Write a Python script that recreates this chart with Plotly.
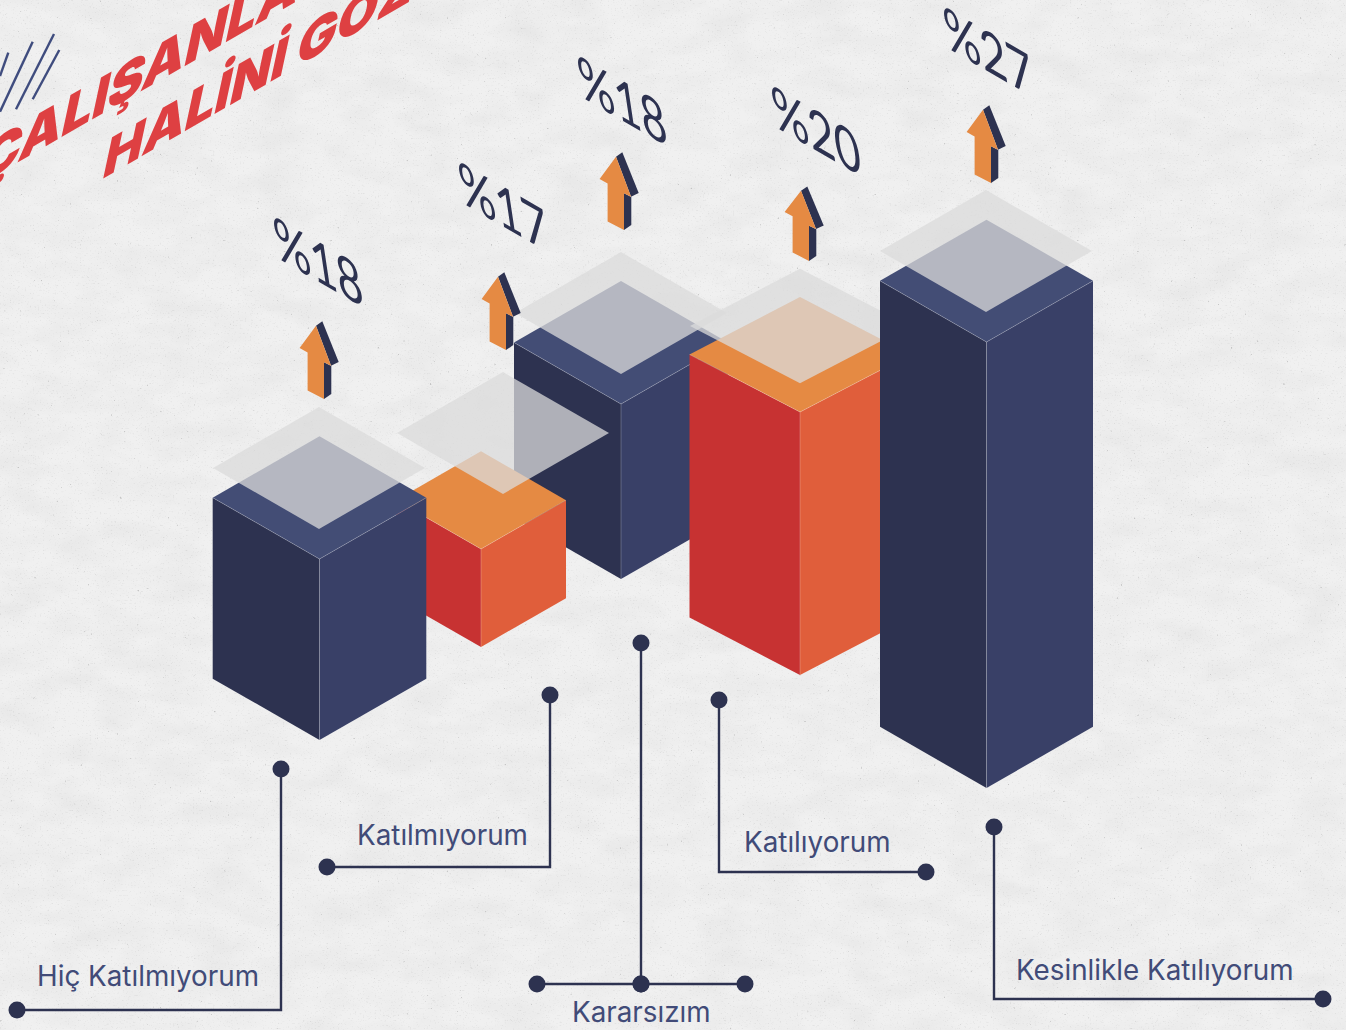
import plotly.graph_objects as go
from urllib.parse import quote

# ---------- data ----------
categories = ["Hiç Katılmıyorum", "Katılmıyorum", "Kararsızım", "Katılıyorum", "Kesinlikle Katılıyorum"]
percent_values = [18, 17, 18, 20, 27]
bar_heights = [181, 98, 175, 263, 446]
title_lines = ["ÇALIŞANLA", "HALİNİ GÖZ"]

# ---------- layout (pixel-space axes) ----------
W, H = 1346, 1030
front_x = [319.5, 481, 621, 800, 986.5]
front_top_y = [559, 549, 404, 412, 342]
half_w = [106.8, 85, 107, 110.5, 106.5]
iso_ratio = [0.5745, 0.5745, 0.5745, 0.52, 0.5745]
palette = ["navy", "orange", "navy", "orange", "navy"]
plane_cx = [319, 503, 621, 800, 986]
plane_cy = [468, 433, 313, 326, 251]
plane_hw = [106, 106, 106, 110, 106]
arrow_x = [324, 506, 624, 809, 991]
arrow_y = [399, 350, 230, 261, 183]
arrow_k = [1, 1, 1, 0.96, 1]
pct_cx = [318, 503, 622, 816, 988]
pct_cy = [260, 205, 99, 129, 50]
label_x = [148, 442, 641, 817, 1155]
label_y = [976, 835, 1012, 842, 970]
leaders = [
    ([281, 281, 17], [769, 1010, 1010]),
    ([550, 550, 327], [695, 867, 867]),
    ([641, 641], [643, 984]),
    ([719, 719, 926], [700, 872, 872]),
    ([994, 994, 1323], [827, 999, 999]),
]
cross_x, cross_y = [537, 641, 745], [984, 984, 984]
hatch = [([8.3, 0], [52.7, 76]), ([32.7, 0], [41.7, 111.7]), ([54, 16], [34, 109.3]), ([59.3, 32.7], [50, 99.3])]

COL = {
    "navy": dict(top="#434d75", left="#2d3250", right="#394067"),
    "orange": dict(top="#e58a43", left="#c73232", right="#e05e3b"),
}
INK = "#2d3250"
LABEL = "#414b78"
PLANE = "rgba(219,219,219,0.75)"

fig = go.Figure()


def poly(xs, ys, color):
    fig.add_trace(go.Scatter(x=xs, y=ys, fill="toself", fillcolor=color, mode="lines",
                             line=dict(width=0), hoverinfo="skip", showlegend=False))


def edge(xs, ys, color="rgba(255,255,255,0.28)", width=0.8):
    fig.add_trace(go.Scatter(x=xs, y=ys, mode="lines", line=dict(color=color, width=width),
                             hoverinfo="skip", showlegend=False))


def bar(i):
    fx, fy, w, h = front_x[i], front_top_y[i], half_w[i], bar_heights[i]
    d = w * iso_ratio[i]
    c = COL[palette[i]]
    poly([fx - w, fx, fx, fx - w], [fy - d, fy, fy + h, fy + h - d], c["left"])
    poly([fx, fx + w, fx + w, fx], [fy, fy - d, fy + h - d, fy + h], c["right"])
    poly([fx - w, fx, fx + w, fx], [fy - d, fy, fy - d, fy - 2 * d], c["top"])
    edge([fx - w, fx, fx + w], [fy - d, fy, fy - d])
    edge([fx, fx], [fy, fy + h])


def plane(i):
    cx, cy, w = plane_cx[i], plane_cy[i], plane_hw[i]
    d = w * iso_ratio[i]
    poly([cx - w, cx, cx + w, cx], [cy, cy + d, cy, cy - d], PLANE)


def arrow(i):
    ax, ay, k = arrow_x[i], arrow_y[i], arrow_k[i]
    poly([ax - 8, ax - 1.7, ax + 14.7, ax + 7], [ay - 73.3 * k, ay - 77.7 * k, ay - 37 * k, ay - 33.3 * k], INK)
    poly([ax, ax + 7.3, ax + 7.3, ax], [ay - 36.7 * k, ay - 33 * k, ay - 5, ay], INK)
    poly([ax - 8, ax - 24.4, ax - 16.4, ax - 16.4, ax, ax, ax + 7],
         [ay - 73.3 * k, ay - 51 * k, ay - 46.6 * k, ay - 8.6, ay, ay - 36.7 * k, ay - 33.3 * k], "#e58a43")


# painter's order taken from the overlaps in the picture
bar(2)
bar(1); plane(1)
bar(0); plane(0)
plane(2)
bar(3); plane(3)
bar(4); plane(4)
for i in range(5):
    arrow(i)

for hx, hy in hatch:
    fig.add_trace(go.Scatter(x=hx, y=hy, mode="lines", line=dict(color="#3f4c7e", width=2.4),
                             hoverinfo="skip", showlegend=False))

for lx, ly in leaders:
    fig.add_trace(go.Scatter(x=lx, y=ly, mode="lines", line=dict(color=INK, width=2.4),
                             hoverinfo="skip", showlegend=False))
    fig.add_trace(go.Scatter(x=[lx[0], lx[-1]], y=[ly[0], ly[-1]], mode="markers",
                             marker=dict(color=INK, size=17), hoverinfo="skip", showlegend=False))
fig.add_trace(go.Scatter(x=cross_x, y=cross_y, mode="lines+markers", line=dict(color=INK, width=2.4),
                         marker=dict(color=INK, size=17), hoverinfo="skip", showlegend=False))

ann = []
for i, v in enumerate(percent_values):
    ann.append(dict(x=pct_cx[i], y=pct_cy[i], text=f"%{v}", showarrow=False, textangle=30,
                    font=dict(family="Lato", size=52, color=INK)))
for i, c in enumerate(categories):
    ann.append(dict(x=label_x[i], y=label_y[i], text=c, showarrow=False,
                    font=dict(family="Inter", size=27.8, color=LABEL, weight=400)))
ann.append(dict(x=142, y=72, text=title_lines[0], showarrow=False, textangle=-30,
                font=dict(family="Inter", size=62, color="#de4042", weight=900)))
ann.append(dict(x=260, y=70, text=title_lines[1], showarrow=False, textangle=-30,
                font=dict(family="Inter", size=61, color="#de4042", weight=900)))

paper = (
    "<svg xmlns='http://www.w3.org/2000/svg' width='1346' height='1030'>"
    "<filter id='a' x='0' y='0' width='100%' height='100%'>"
    "<feTurbulence type='fractalNoise' baseFrequency='0.02 0.04' numOctaves='5' seed='7'/>"
    "<feColorMatrix values='0 0 0 0 0.45 0 0 0 0 0.45 0 0 0 0 0.45 0.5 0.5 0 0 -0.40'/>"
    "</filter>"
    "<filter id='b' x='0' y='0' width='100%' height='100%'>"
    "<feTurbulence type='fractalNoise' baseFrequency='0.6' numOctaves='2' seed='3'/>"
    "<feColorMatrix values='0 0 0 0 0.3 0 0 0 0 0.3 0 0 0 0 0.3 0 2.6 0 0 -1.6'/>"
    "</filter>"
    "<filter id='c' x='0' y='0' width='100%' height='100%'>"
    "<feTurbulence type='fractalNoise' baseFrequency='0.3' numOctaves='2' seed='11'/>"
    "<feColorMatrix values='0 0 0 0 0.25 0 0 0 0 0.25 0 0 0 0 0.25 0 9 0 0 -7.1'/>"
    "</filter>"
    "<rect width='1346' height='1030' fill='#f0f0f0'/>"
    "<rect width='1346' height='1030' filter='url(#a)' opacity='0.32'/>"
    "<rect width='1346' height='1030' filter='url(#b)' opacity='0.25'/>"
    "<rect width='1346' height='1030' filter='url(#c)' opacity='0.4'/>"
    "</svg>"
)

fig.update_layout(
    width=W, height=H, margin=dict(l=0, r=0, t=0, b=0),
    paper_bgcolor="#eeeeee", plot_bgcolor="rgba(0,0,0,0)", showlegend=False,
    xaxis=dict(range=[0, W], visible=False, fixedrange=True),
    yaxis=dict(range=[H, 0], visible=False, fixedrange=True),
    annotations=ann,
    images=[dict(source="data:image/svg+xml," + quote(paper), xref="x", yref="y", x=0, y=0,
                 sizex=W, sizey=H, sizing="stretch", layer="below", xanchor="left", yanchor="top")],
)

# full-bleed page, and isometric shear for the rotated texts (annotations only offer rotation)
post = """
document.body.style.margin='0';document.body.style.overflow='hidden';document.body.style.background='#eeeeee';
document.querySelectorAll('.annotation-text-g').forEach(function(g){
  var m=/rotate\\(([-\\d.]+),\\s*([-\\d.]+),\\s*([-\\d.]+)\\)/.exec(g.getAttribute('transform')||'');
  if(!m) return; var ang=+m[1], x=+m[2], y=+m[3], t;
  if(ang>0) t=[0.866,0.5,0.175,1.17]; else if(ang<0) t=[0.866,-0.5,-0.2,0.93]; else return;
  g.setAttribute('transform','matrix('+t[0]+','+t[1]+','+t[2]+','+t[3]+','+(x-t[0]*x-t[2]*y)+','+(y-t[1]*x-t[3]*y)+')');
});
"""
fig.write_html("out.html", post_script=post, config=dict(displayModeBar=False))
